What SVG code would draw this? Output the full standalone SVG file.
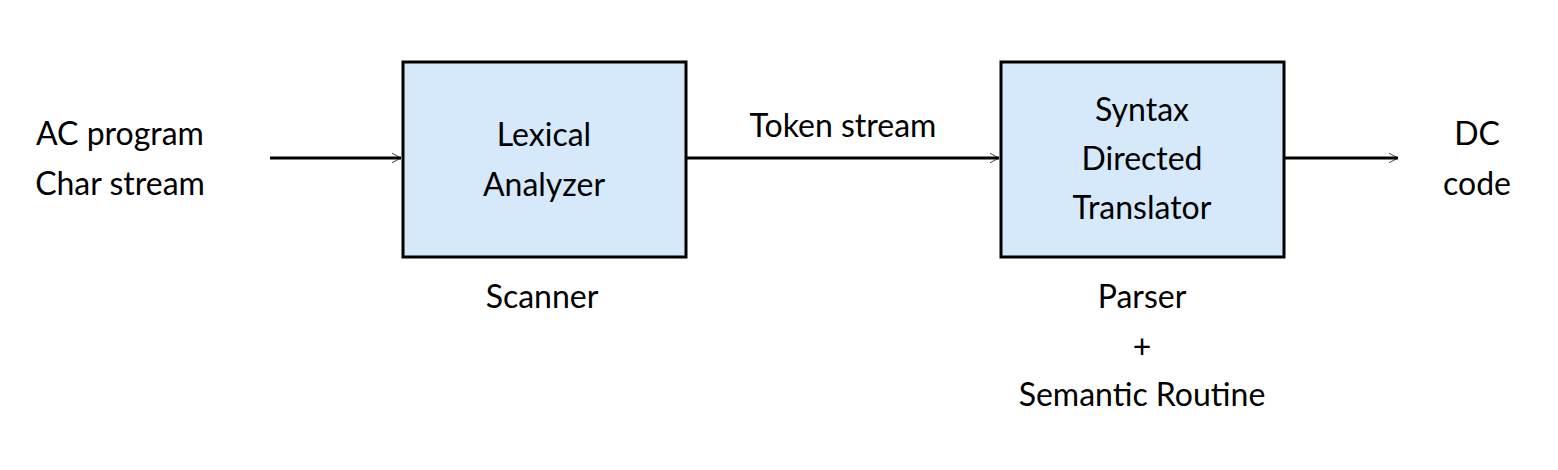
<svg xmlns="http://www.w3.org/2000/svg" width="1558" height="470" viewBox="0 0 1558 470">
<style>
.box{fill:#D5E9FA;stroke:#000;stroke-width:3}
.t{font-family:Lato,"Open Sans",sans-serif;font-size:32px;fill:#000;text-anchor:middle}
.c{stroke:#000;stroke-width:3;fill:none}
</style>
<defs><marker id="a" viewBox="0 0 10 10" refX="9" refY="5" markerWidth="6" markerHeight="6" markerUnits="userSpaceOnUse" orient="auto" overflow="visible"><path d="M-6,-3 L9,5 L-6,13" fill="none" stroke="#000" stroke-width="1.2"/></marker></defs>
<rect width="1558" height="470" fill="#fff"/>
<g id="input"><text class="t" x="120" y="145">AC program</text><text class="t" x="120" y="195">Char stream</text></g>
<g id="lexer"><rect class="box" x="403" y="62" width="283" height="195"/><text class="t" x="544" y="146">Lexical</text><text class="t" x="544" y="196">Analyzer</text><text class="t" x="542" y="308">Scanner</text></g>
<g id="sdt"><rect class="box" x="1001" y="62" width="283" height="195"/><text class="t" x="1142" y="121">Syntax</text><text class="t" x="1142" y="170">Directed</text><text class="t" x="1142" y="219">Translator</text><text class="t" x="1142" y="308">Parser</text><text class="t" x="1142" y="358">+</text><text class="t" x="1142" y="406">Semantic Routine</text></g>
<g id="output"><text class="t" x="1477" y="145">DC</text><text class="t" x="1477" y="195">code</text></g>
<g id="connectors">
<line class="c" x1="270" y1="158" x2="401" y2="158" marker-end="url(#a)"/>
<line class="c" x1="686" y1="158" x2="999" y2="158" marker-end="url(#a)"/>
<text class="t" x="843" y="137">Token stream</text>
<line class="c" x1="1284" y1="158" x2="1398" y2="158" marker-end="url(#a)"/>
</g>
</svg>
